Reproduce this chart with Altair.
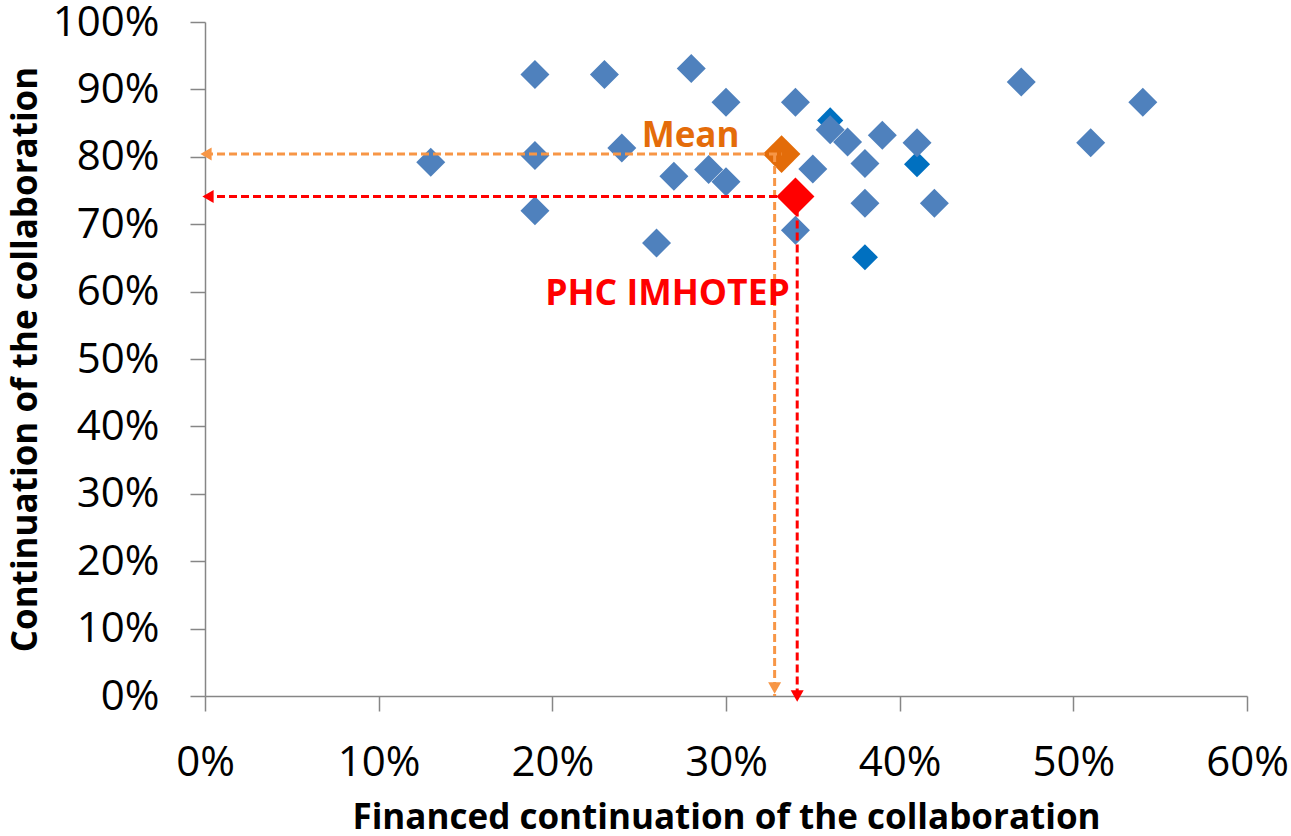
import altair as alt
import pandas as pd

# Projects: share with financed continuation (x, %) vs share continuing the collaboration (y, %)
blue_x = [13, 19, 19, 19, 23, 24, 26, 27, 28, 29, 30, 30, 34, 34, 35, 36, 37, 38, 38, 39, 41, 42, 47, 51, 54]
blue_y = [79.2, 92.2, 80.2, 72.0, 92.2, 81.3, 67.2, 77.1, 93.1, 78.1, 88.1, 76.3, 88.1, 69.1, 78.2,
          84.0, 82.2, 79.0, 73.1, 83.2, 82.1, 73.1, 91.1, 82.1, 88.1]

# A few projects drawn in a deeper blue
dark_x = [36, 38, 41]
dark_y = [85.4, 65.1, 78.9]

# Mean of all projects and the highlighted programme
mean_x, mean_y = 33.2, 80.4
phc_x, phc_y = 34.0, 74.1

# Dashed guides running to the axes
mean_guide_x = 32.8
phc_guide_x = 34.1

x_ticks = [0, 10, 20, 30, 40, 50, 60]
y_ticks = [0, 10, 20, 30, 40, 50, 60, 70, 80, 90, 100]

FONT = "Open Sans"
ORANGE_LINE = "#F79646"
ORANGE_MARK = "#E36C09"
ORANGE_TEXT = "#E46C0A"
RED = "#FF0000"

xs = alt.Scale(domain=[0, 60], nice=False, zero=False)
ys = alt.Scale(domain=[0, 100], nice=False, zero=False)

x_axis = alt.Axis(values=x_ticks, labelExpr="datum.value + '%'", grid=False, labelFlush=False,
                  title="Financed continuation of the collaboration",
                  titleY=132, titleBaseline="alphabetic")
y_axis = alt.Axis(values=y_ticks, labelExpr="datum.value + '%'", grid=False, labelFlush=False,
                  title="Continuation of the collaboration",
                  titleX=-169, titleBaseline="alphabetic")

X = alt.X("x:Q", scale=xs, axis=x_axis)
Y = alt.Y("y:Q", scale=ys, axis=y_axis)

blue = pd.DataFrame({"x": blue_x, "y": blue_y})
dark = pd.DataFrame({"x": dark_x, "y": dark_y})
mean = pd.DataFrame({"x": [mean_x], "y": [mean_y]})
phc = pd.DataFrame({"x": [phc_x], "y": [phc_y]})


def diamonds(df, color, size):
    return alt.Chart(df).mark_point(
        shape="diamond", filled=True, size=size, color=color, opacity=1, strokeWidth=0
    ).encode(x=X, y=Y)


dark_pts = diamonds(dark, "#0070C0", 680)
blue_pts = diamonds(blue, "#4F81BD", 841)
mean_pt = diamonds(mean, ORANGE_MARK, 1420)
phc_pt = diamonds(phc, RED, 1444)

# Guide segments: horizontal to the y axis, vertical to the x axis
seg = pd.DataFrame({
    "x": [0, mean_guide_x, 0, phc_guide_x],
    "x2": [mean_x, mean_guide_x, phc_x, phc_guide_x],
    "y": [mean_y, mean_y, phc_y, phc_y],
    "y2": [mean_y, 0, phc_y, 0],
    "who": ["mean", "mean", "phc", "phc"],
})
color_scale = alt.Scale(domain=["mean", "phc"], range=[ORANGE_LINE, RED])
guides = alt.Chart(seg).mark_rule(strokeWidth=3, strokeDash=[8, 4]).encode(
    x=X, x2="x2:Q", y=Y, y2="y2:Q",
    color=alt.Color("who:N", scale=color_scale, legend=None),
)

# Arrow heads at the axis ends of the guides
def head(x, y, shape, color, dx=0, dy=0, size=169):
    return alt.Chart(pd.DataFrame({"x": [x], "y": [y]})).mark_point(
        shape=shape, filled=True, size=size, color=color, opacity=1, strokeWidth=0,
        xOffset=dx, yOffset=dy,
    ).encode(x=X, y=Y)


heads = [
    head(0, mean_y, "triangle-left", ORANGE_LINE, dx=1),
    head(0, phc_y, "triangle-left", RED, dx=3),
    head(mean_guide_x, 0, "triangle-down", ORANGE_LINE, dy=-8),
    head(phc_guide_x, 0, "triangle-down", RED, dy=0),
]

mean_label = alt.Chart(mean).mark_text(
    text="Mean", font=FONT, fontSize=35, fontWeight="bold", color=ORANGE_TEXT,
    align="center", baseline="alphabetic", dx=-91, dy=-7,
).encode(x=X, y=Y)

phc_label = alt.Chart(phc).mark_text(
    text="PHC IMHOTEP", font=FONT, fontSize=35.5, fontWeight="bold", color=RED,
    align="center", baseline="alphabetic", dx=-128, dy=108,
).encode(x=X, y=Y)

chart = alt.layer(
    dark_pts, blue_pts, mean_pt, phc_pt, guides, *heads, mean_label, phc_label
).properties(
    width=1042, height=674,
    autosize=alt.AutoSizeParams(type="none"),
    padding={"left": 205, "top": 22, "right": 44, "bottom": 140},
).configure_view(
    stroke=None
).configure_axis(
    domainColor="#868686", domainWidth=1.5,
    tickColor="#868686", tickWidth=1.5, tickSize=15,
    labelFont=FONT, labelFontSize=42, labelColor="#000000", labelPadding=31,
    titleFont=FONT, titleFontSize=35, titleFontWeight="bold", titleColor="#000000",
).configure_axisY(
    labelPadding=31,
)

chart.save("out.html", embed_options={"renderer": "svg", "actions": False})
